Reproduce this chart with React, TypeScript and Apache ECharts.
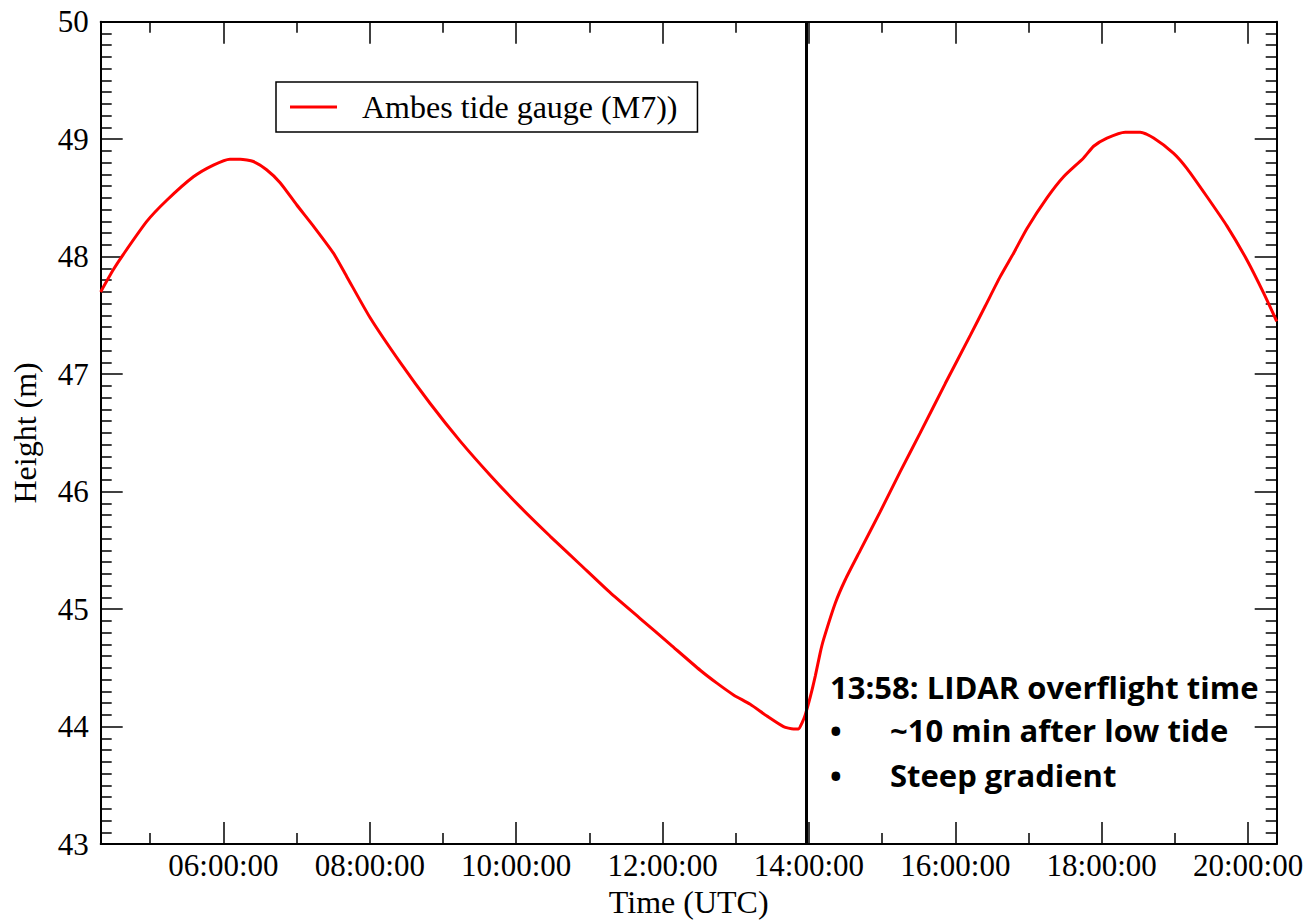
import React, { useEffect, useRef } from "react";
import * as echarts from "echarts";

// Time in decimal hours (UTC)
const hours: number[] = [
  4.323, 4.497, 4.633, 4.953, 5.226, 5.59, 5.863, 6.09, 6.23, 6.41, 6.59, 6.775,
  7.003, 7.23, 7.503, 7.686, 8.005, 8.415, 8.825, 9.235, 9.645, 10.055, 10.465,
  10.875, 11.285, 11.695, 12.105, 12.515, 12.743, 12.97, 13.198, 13.427, 13.653,
  13.79, 13.858, 13.905, 13.95, 14.018, 14.087, 14.155, 14.2, 14.36, 14.497,
  14.702, 14.975, 15.248, 15.521, 15.863, 16.205, 16.41, 16.614, 16.797, 16.98,
  17.253, 17.48, 17.753, 17.89, 18.073, 18.323, 18.528, 18.71, 18.984, 19.167,
  19.44, 19.713, 19.987, 20.214, 20.392,
];
// Height (m)
const heights: number[] = [
  47.7, 47.89, 48.02, 48.3, 48.48, 48.68, 48.78, 48.83, 48.83, 48.81, 48.74, 48.63,
  48.44, 48.26, 48.03, 47.83, 47.48, 47.1, 46.75, 46.43, 46.14, 45.87, 45.62,
  45.38, 45.14, 44.92, 44.7, 44.48, 44.37, 44.27, 44.19, 44.09, 44.0,
  43.98, 43.98, 44.03, 44.1, 44.25, 44.43, 44.63, 44.74, 45.05, 45.25,
  45.5, 45.83, 46.17, 46.5, 46.92, 47.33, 47.58, 47.83, 48.03, 48.24,
  48.5, 48.68, 48.84, 48.94, 49.01, 49.06, 49.06, 49.01, 48.88, 48.75,
  48.51, 48.26, 47.97, 47.69, 47.45,
];

const majorHourTicks: number[] = [6, 8, 10, 12, 14, 16, 18, 20];
const minorHourTicks: number[] = [5, 7, 9, 11, 13, 15, 17, 19];
const overflightHour = 13 + 58 / 60;

const seriesName = "Ambes tide gauge (M7))";
const annotationTitle = "13:58: LIDAR overflight time";
const annotationBullets: string[] = ["~10 min after low tide", "Steep gradient"];

const X_MIN = 4.3233;
const X_MAX = 20.392;

const SERIF = "'Liberation Serif', 'Times New Roman', serif";
const SANS = "'Open Sans', 'Noto Sans', sans-serif";

const fmtHour = (v: number) => `${String(Math.round(v)).padStart(2, "0")}:00:00`;

export default function App() {
  const ref = useRef<HTMLDivElement>(null);

  useEffect(() => {
    if (!ref.current) return;
    const chart = echarts.init(ref.current, undefined, { renderer: "svg" });

    const axisLine = { show: true, lineStyle: { color: "#000", width: 2 } };
    const tickStyle = { color: "#000", width: 1.5 };

    const xBase = (position: "top" | "bottom") => ({
      type: "value" as const,
      min: X_MIN,
      max: X_MAX,
      position,
      splitLine: { show: false },
      axisLine,
    });

    const annoFont = { fontFamily: SANS, fontWeight: "bold", fontSize: 31, fill: "#000" };

    const option: any = {
      animation: false,
      backgroundColor: "#fff",
      grid: { left: 100.7, right: 37.3, top: 21.7, bottom: 78, containLabel: false },
      legend: {
        data: [{ name: seriesName, icon: "rect" }],
        left: 276,
        top: 82,
        orient: "horizontal",
        backgroundColor: "#fff",
        borderColor: "#000",
        borderWidth: 1.5,
        borderRadius: 0,
        padding: [9, 20, 9, 14],
        itemWidth: 47,
        itemHeight: 3,
        selectedMode: false,
        itemStyle: { color: "#ff0000", borderWidth: 0 },
        textStyle: {
          fontFamily: SERIF,
          fontSize: 32,
          color: "#000",
          padding: [0, 0, 0, 20],
        },
      },
      xAxis: [
        {
          ...xBase("bottom"),
          name: "Time (UTC)",
          nameLocation: "middle",
          nameGap: 40,
          nameTextStyle: { fontFamily: SERIF, fontSize: 32, color: "#000" },
          axisTick: {
            show: true,
            inside: true,
            length: 22,
            customValues: majorHourTicks,
            lineStyle: tickStyle,
          },
          axisLabel: {
            show: true,
            customValues: majorHourTicks,
            formatter: fmtHour,
            fontFamily: SERIF,
            fontSize: 31,
            color: "#000",
            margin: 6,
          },
        },
        {
          ...xBase("bottom"),
          axisLine: { show: false },
          axisTick: {
            show: true,
            inside: true,
            length: 11,
            customValues: minorHourTicks,
            lineStyle: tickStyle,
          },
          axisLabel: { show: false },
        },
        {
          ...xBase("top"),
          axisTick: {
            show: true,
            inside: true,
            length: 22,
            customValues: majorHourTicks,
            lineStyle: tickStyle,
          },
          axisLabel: { show: false },
        },
        {
          ...xBase("top"),
          axisLine: { show: false },
          axisTick: {
            show: true,
            inside: true,
            length: 11,
            customValues: minorHourTicks,
            lineStyle: tickStyle,
          },
          axisLabel: { show: false },
        },
      ],
      yAxis: [
        {
          type: "value",
          min: 43,
          max: 50,
          interval: 1,
          position: "left",
          name: "Height (m)",
          nameLocation: "middle",
          nameRotate: 90,
          nameGap: 60,
          nameTextStyle: { fontFamily: SERIF, fontSize: 32, color: "#000" },
          splitLine: { show: false },
          axisLine,
          axisTick: { show: true, inside: true, length: 22, lineStyle: tickStyle },
          minorTick: { show: true, splitNumber: 10, length: 11, lineStyle: tickStyle },
          axisLabel: {
            fontFamily: SERIF,
            fontSize: 31,
            color: "#000",
            margin: 12,
          },
        },
        {
          type: "value",
          min: 43,
          max: 50,
          interval: 1,
          position: "right",
          splitLine: { show: false },
          axisLine,
          axisTick: { show: true, inside: true, length: 22, lineStyle: tickStyle },
          minorTick: { show: true, splitNumber: 10, length: 11, lineStyle: tickStyle },
          axisLabel: { show: false },
        },
      ],
      series: [
        {
          name: seriesName,
          type: "line",
          xAxisIndex: 0,
          yAxisIndex: 0,
          data: hours.map((h, i) => [h, heights[i]]),
          symbol: "none",
          showSymbol: false,
          smooth: 0.2,
          lineStyle: { color: "#ff0000", width: 3 },
          itemStyle: { color: "#ff0000" },
          markLine: {
            silent: true,
            symbol: ["none", "none"],
            label: { show: false },
            lineStyle: { color: "#000", width: 3, type: "solid" },
            data: [{ xAxis: overflightHour }],
          },
        },
      ],
      graphic: [
        {
          type: "text",
          left: 830,
          top: 671,
          style: { text: annotationTitle, ...annoFont },
        },
        ...annotationBullets.flatMap((t, i) => [
          {
            type: "text",
            left: 830,
            top: 714 + i * 45,
            style: { text: "•", ...annoFont },
          },
          {
            type: "text",
            left: 890,
            top: 714 + i * 45,
            style: { text: t, ...annoFont },
          },
        ]),
      ],
    };

    chart.setOption(option);
    return () => chart.dispose();
  }, []);

  return (
    <div
      ref={ref}
      style={{ position: "fixed", left: 0, top: 0, width: 1314, height: 923, background: "#fff" }}
    />
  );
}
